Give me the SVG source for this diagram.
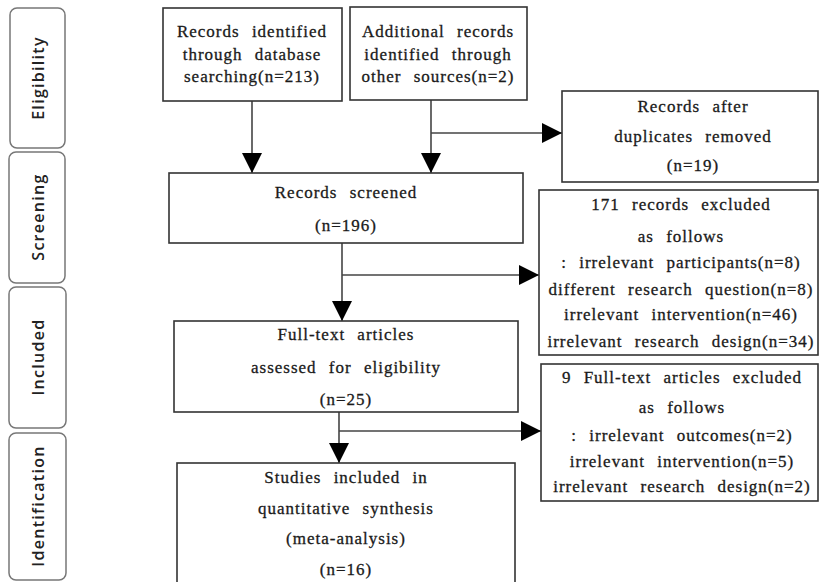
<svg xmlns="http://www.w3.org/2000/svg" width="819" height="582" viewBox="0 0 819 582">
<defs>
<style>
.phase{fill:#fff;stroke:#777;stroke-width:1.5}
.ptxt{font-family:'Open Sans','DejaVu Sans',sans-serif;font-size:16px;font-weight:600;fill:#222;letter-spacing:1.3px;text-anchor:middle;dominant-baseline:central}
.box{fill:#fff;stroke:#333;stroke-width:1.6}
.t{font-family:'Liberation Serif','DejaVu Serif',serif;font-size:17px;fill:#1a1a1a;stroke:#1a1a1a;stroke-width:0.3px;letter-spacing:1px;word-spacing:7px;text-anchor:middle}
.c{fill:none;stroke:#444;stroke-width:1.6}
</style>
<marker id="ah" viewBox="0 0 20 20" refX="20" refY="10" markerWidth="20" markerHeight="20" markerUnits="userSpaceOnUse" orient="auto">
<path d="M0,0 L20,10 L0,20 z" fill="#000"/>
</marker>
</defs>
<rect width="819" height="582" fill="#fff"/>

<g id="phase-eligibility">
<rect class="phase" x="10" y="8" width="55" height="140" rx="7"/>
<text class="ptxt" transform="translate(38,78) rotate(-90)">Eligibility</text>
</g>
<g id="phase-screening">
<rect class="phase" x="9" y="152" width="56" height="131" rx="7"/>
<text class="ptxt" transform="translate(38,217) rotate(-90)">Screening</text>
</g>
<g id="phase-included">
<rect class="phase" x="9" y="287" width="57" height="141" rx="7"/>
<text class="ptxt" transform="translate(38,357) rotate(-90)">Included</text>
</g>
<g id="phase-identification">
<rect class="phase" x="9" y="433" width="57" height="147" rx="7"/>
<text class="ptxt" transform="translate(38,506) rotate(-90)">Identification</text>
</g>

<g id="connectors">
<line class="c" x1="252" y1="101" x2="252" y2="173" marker-end="url(#ah)"/>
<line class="c" x1="431" y1="100" x2="431" y2="173" marker-end="url(#ah)"/>
<line class="c" x1="431" y1="133" x2="562" y2="133" marker-end="url(#ah)"/>
<line class="c" x1="342" y1="243" x2="342" y2="321" marker-end="url(#ah)"/>
<line class="c" x1="342" y1="275" x2="539" y2="275" marker-end="url(#ah)"/>
<line class="c" x1="339" y1="412" x2="339" y2="463" marker-end="url(#ah)"/>
<line class="c" x1="339" y1="431" x2="541" y2="431" marker-end="url(#ah)"/>
</g>

<g id="node-database">
<rect class="box" x="163" y="8" width="179" height="93"/>
<text class="t" x="252" y="37">Records identified</text>
<text class="t" x="252" y="60">through database</text>
<text class="t" x="252" y="82">searching(n=213)</text>
</g>
<g id="node-other">
<rect class="box" x="350" y="7" width="177" height="93"/>
<text class="t" x="438" y="37">Additional records</text>
<text class="t" x="438" y="60">identified through</text>
<text class="t" x="438" y="82">other sources(n=2)</text>
</g>
<g id="node-duplicates">
<rect class="box" x="562" y="91" width="256" height="91"/>
<text class="t" x="693" y="112">Records after</text>
<text class="t" x="693" y="142">duplicates removed</text>
<text class="t" x="693" y="171">(n=19)</text>
</g>
<g id="node-screened">
<rect class="box" x="169" y="173" width="354" height="70"/>
<text class="t" x="346" y="198">Records screened</text>
<text class="t" x="346" y="231">(n=196)</text>
</g>
<g id="node-excluded1">
<rect class="box" x="539" y="190" width="279" height="165"/>
<text class="t" x="681" y="210">171 records excluded</text>
<text class="t" x="681" y="242">as follows</text>
<text class="t" x="681" y="268">: irrelevant participants(n=8)</text>
<text class="t" x="681" y="295">different research question(n=8)</text>
<text class="t" x="681" y="320">irrelevant intervention(n=46)</text>
<text class="t" x="681" y="347">irrelevant research design(n=34)</text>
</g>
<g id="node-fulltext">
<rect class="box" x="174" y="321" width="344" height="91"/>
<text class="t" x="346" y="340">Full-text articles</text>
<text class="t" x="346" y="373">assessed for eligibility</text>
<text class="t" x="346" y="405">(n=25)</text>
</g>
<g id="node-excluded2">
<rect class="box" x="541" y="364" width="277" height="137"/>
<text class="t" x="682" y="383">9 Full-text articles excluded</text>
<text class="t" x="682" y="413">as follows</text>
<text class="t" x="682" y="441">: irrelevant outcomes(n=2)</text>
<text class="t" x="682" y="467">irrelevant intervention(n=5)</text>
<text class="t" x="682" y="492">irrelevant research design(n=2)</text>
</g>
<g id="node-studies">
<rect class="box" x="177" y="463" width="338" height="130"/>
<text class="t" x="346" y="483">Studies included in</text>
<text class="t" x="346" y="514">quantitative synthesis</text>
<text class="t" x="346" y="544">(meta-analysis)</text>
<text class="t" x="346" y="575">(n=16)</text>
</g>
</svg>
